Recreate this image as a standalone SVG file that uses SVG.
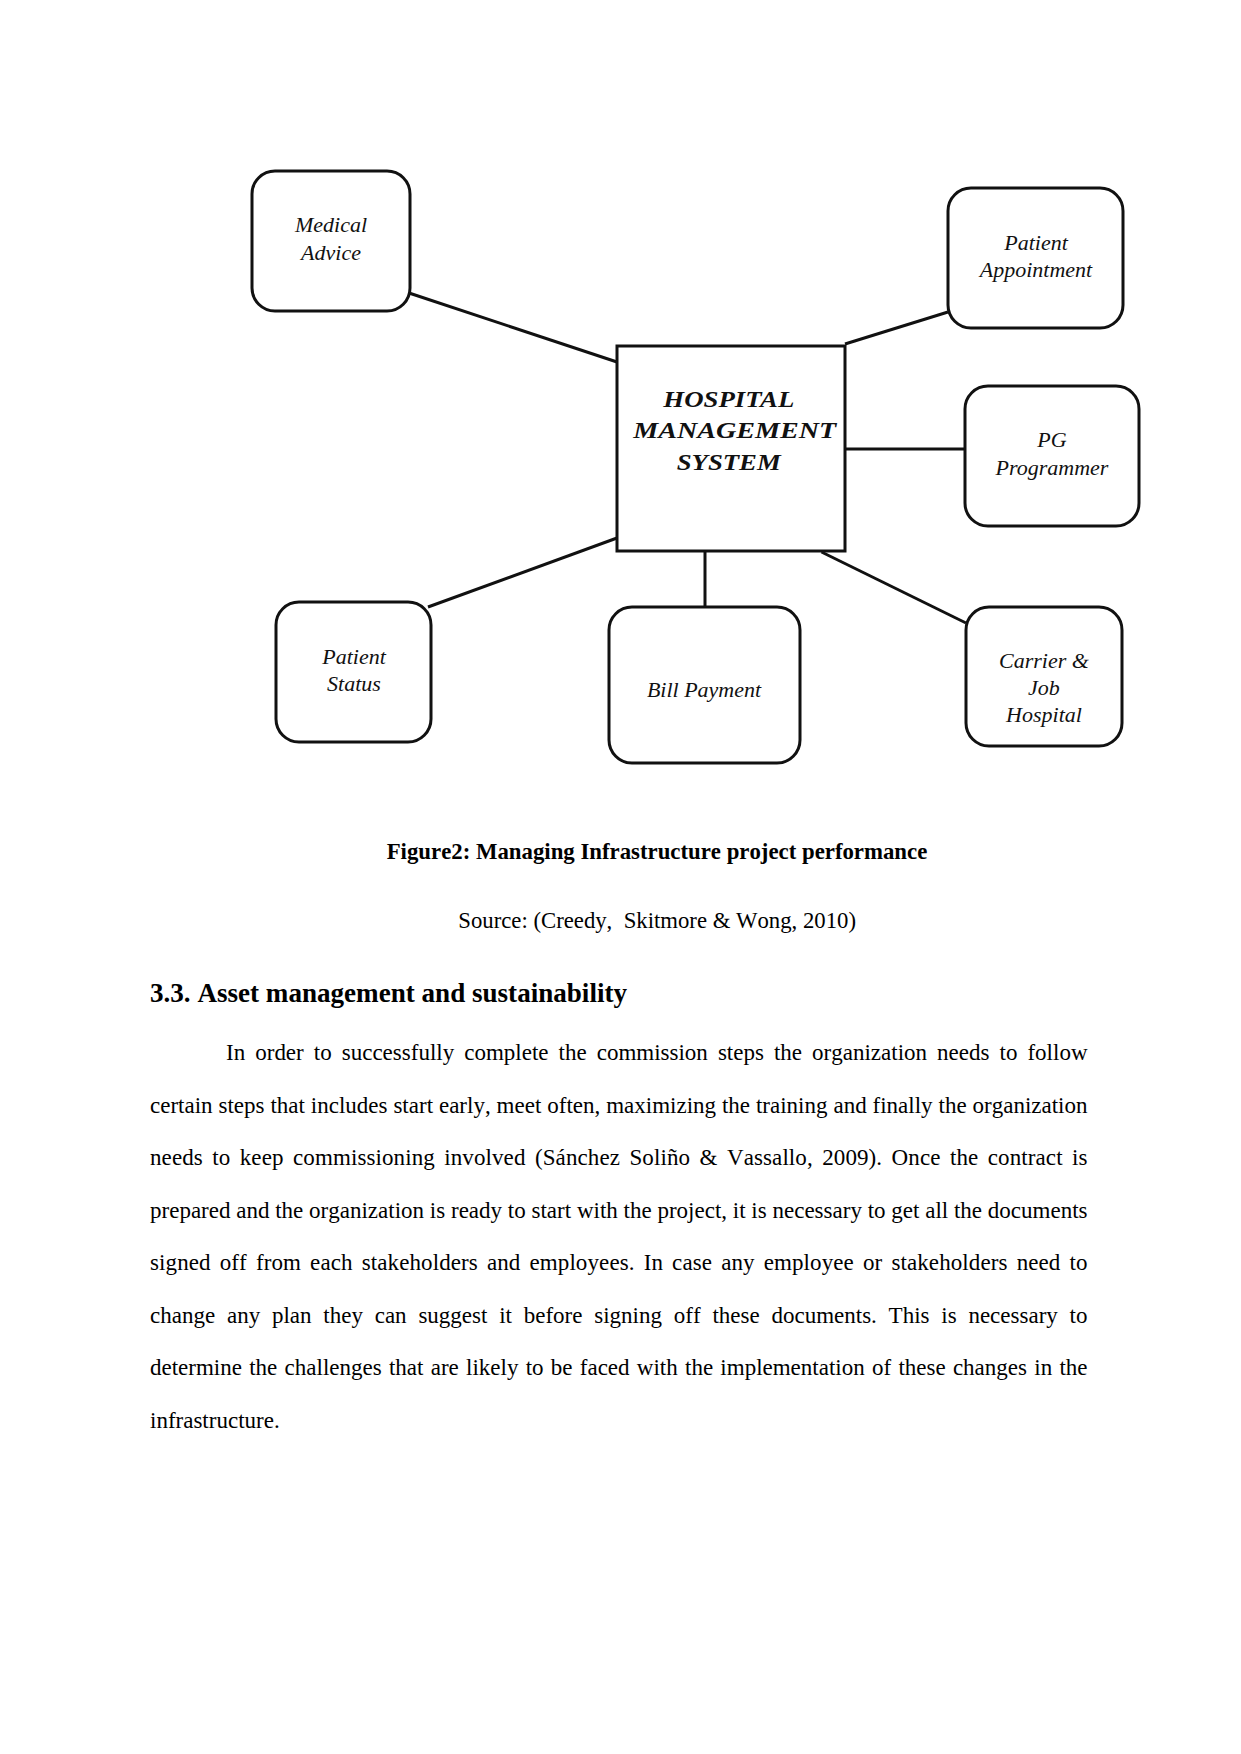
<svg xmlns="http://www.w3.org/2000/svg" width="1241" height="1754" viewBox="0 0 1241 1754">
<style>
.box{fill:#fff;stroke:#111;stroke-width:3}
.conn line{stroke:#111;stroke-width:3}
.nt{font-family:"Liberation Serif","Times New Roman",serif;font-style:italic;font-size:22px;fill:#111;text-anchor:middle}
.ct{font-family:"Liberation Serif","Times New Roman",serif;font-style:italic;font-weight:bold;font-size:24px;fill:#111}
.body{font-family:"Liberation Serif","Times New Roman",serif;font-size:23px;fill:#000;font-variant-ligatures:none;font-kerning:none}
.bold{font-weight:bold}
</style>
<rect width="1241" height="1754" fill="#fff"/>
<g id="connectors" class="conn">
<line x1="409" y1="293" x2="617" y2="362"/>
<line x1="845" y1="344" x2="948" y2="312"/>
<line x1="845" y1="449" x2="965" y2="449"/>
<line x1="617" y1="538" x2="428" y2="607"/>
<line x1="705" y1="551" x2="705" y2="607"/>
<line x1="821.5" y1="552" x2="966" y2="623"/>
</g>
<g id="hms">
<rect class="box" x="617" y="346" width="228" height="205"/>
<text class="ct" x="663.3" y="407.3" textLength="131" lengthAdjust="spacingAndGlyphs">HOSPITAL</text>
<text class="ct" x="633.3" y="438.3" textLength="203" lengthAdjust="spacingAndGlyphs">MANAGEMENT</text>
<text class="ct" x="676.7" y="470" textLength="104" lengthAdjust="spacingAndGlyphs">SYSTEM</text>
</g>
<g id="medical-advice">
<rect class="box" x="252" y="171" width="158" height="140" rx="23"/>
<text class="nt" x="331" y="232.3">Medical</text>
<text class="nt" x="331" y="260">Advice</text>
</g>
<g id="patient-appointment">
<rect class="box" x="948" y="188" width="175" height="140" rx="23"/>
<text class="nt" x="1036" y="250">Patient</text>
<text class="nt" x="1036" y="277">Appointment</text>
</g>
<g id="pg-programmer">
<rect class="box" x="965" y="386" width="174" height="140" rx="23"/>
<text class="nt" x="1052" y="447.3">PG</text>
<text class="nt" x="1052" y="475">Programmer</text>
</g>
<g id="patient-status">
<rect class="box" x="276" y="602" width="155" height="140" rx="23"/>
<text class="nt" x="354" y="663.5">Patient</text>
<text class="nt" x="354" y="690.5">Status</text>
</g>
<g id="bill-payment">
<rect class="box" x="609" y="607" width="191" height="156" rx="23"/>
<text class="nt" x="704" y="696.7">Bill Payment</text>
</g>
<g id="carrier-job-hospital">
<rect class="box" x="966" y="607" width="156" height="139" rx="23"/>
<text class="nt" x="1044" y="667.7">Carrier &amp;</text>
<text class="nt" x="1044" y="695">Job</text>
<text class="nt" x="1044" y="722">Hospital</text>
</g>
<g id="text">
<text class="body bold" x="386.7" y="859.3" textLength="540.6" lengthAdjust="spacingAndGlyphs">Figure2: Managing Infrastructure project performance</text>
<text class="body" x="458.3" y="928.3" textLength="397.7" lengthAdjust="spacingAndGlyphs" xml:space="preserve">Source: (Creedy,  Skitmore &amp; Wong, 2010)</text>
<text class="body bold" x="150" y="1001.7" style="font-size:27px" textLength="477" lengthAdjust="spacingAndGlyphs">3.3. Asset management and sustainability</text>
<text class="body" x="226" y="1060" word-spacing="4.29" textLength="861.5" lengthAdjust="spacing">In order to successfully complete the commission steps the organization needs to follow</text>
<text class="body" x="150" y="1112.5" word-spacing="0.16" textLength="937.5" lengthAdjust="spacing">certain steps that includes start early, meet often, maximizing the training and finally the organization</text>
<text class="body" x="150" y="1165" word-spacing="3.54" textLength="937.5" lengthAdjust="spacing">needs to keep commissioning involved (Sánchez Soliño &amp; Vassallo, 2009). Once the contract is</text>
<text class="body" x="150" y="1217.5" word-spacing="0.02" textLength="937.5" lengthAdjust="spacing">prepared and the organization is ready to start with the project, it is necessary to get all the documents</text>
<text class="body" x="150" y="1270" word-spacing="3.2" textLength="937.5" lengthAdjust="spacing">signed off from each stakeholders and employees. In case any employee or stakeholders need to</text>
<text class="body" x="150" y="1322.5" word-spacing="6.03" textLength="937.5" lengthAdjust="spacing">change any plan they can suggest it before signing off these documents. This is necessary to</text>
<text class="body" x="150" y="1375" word-spacing="1.51" textLength="937.5" lengthAdjust="spacing">determine the challenges that are likely to be faced with the implementation of these changes in the</text>
<text class="body" x="150" y="1427.7">infrastructure.</text>
</g>
</svg>
